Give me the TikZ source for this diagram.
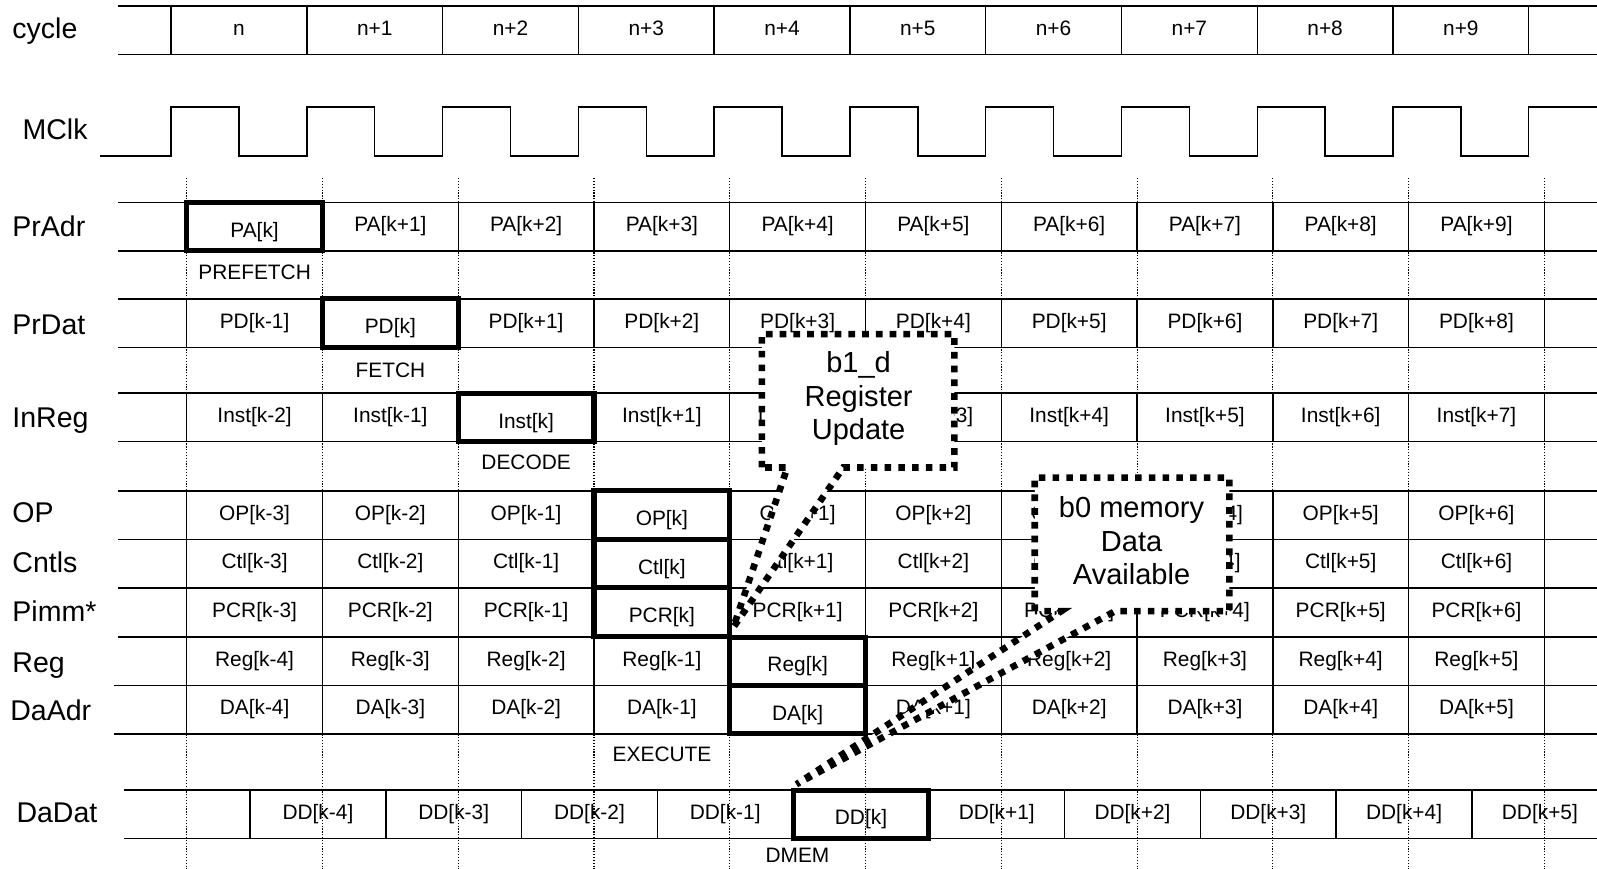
\documentclass[tikz,border=0pt]{standalone}
\usepackage{fontspec}
\setmainfont{Liberation Sans}
\usetikzlibrary{calc}
\newcommand\fntcell{\fontsize{20.5}{24}\selectfont}
\newcommand\fntlab{\fontsize{28}{32}\selectfont}
\newcommand\fntcall{\fontsize{28.5}{33}\selectfont}
% #1 prefix, #2 y centre, #3 thick index, #4 x of first cell, #5 x of left wire, #6 last index, #7 texts
\newcommand\cellrow[7]{%
  \foreach \t [count=\i from 0] in {#7}{%
    \ifnum\i=#3\relax
      \node[thkcell] (#1\i) at ({#4+133.3*\i+66.65},{#2}) {\t};
    \else
      \node[cell] (#1\i) at ({#4+133.3*\i+66.65},{#2}) {\t};
    \fi}%
  \draw[wire] ({#5},{#2-23.75}) -- (#10.north west);
  \draw[wire] ({#5},{#2+23.75}) -- (#10.south west);
  \draw[wire] (#1#6.north east) -- ({1568},{#2-23.75});
  \draw[wire] (#1#6.south east) -- ({1568},{#2+23.75});
}
\begin{document}
\begin{tikzpicture}[x=1pt,y=-1pt,
  wire/.style={line width=1.4pt},
  cell/.style={draw, line width=1.4pt, minimum width=133.3pt, minimum height=47.5pt,
    inner sep=0pt, outer sep=0pt, font=\fntcell, text height=15pt, text depth=4.5pt},
  thkcell/.style={cell, line width=5pt, text height=21pt, text depth=0pt},
  celltxt/.style={inner sep=0pt, font=\fntcell, text height=15pt, text depth=4.5pt},
  rlab/.style={anchor=base west, inner sep=0pt, font=\fntlab},
  stg/.style={inner sep=0pt, font=\fntcell},
  vgrid/.style={line width=1pt, dash pattern=on 1.2pt off 1.6pt},
  cbox/.style={fill=white, draw, line width=6.5pt, dash pattern=on 6.5pt off 7pt},
  ctext/.style={inner sep=0pt, align=center, font=\fntcall},
  cframe/.style={inner sep=0pt, outer sep=0pt, minimum height=131pt}
]
\fill[white] (0,0) rectangle (1568,853);
\useasboundingbox (0,0) rectangle (1568,853);

% row labels
\node[rlab] (lcycle) at (12,38) {cycle};
\node[rlab] (lmclk) at (22,137) {MClk};
\node[rlab] (lpradr) at (12,232) {PrAdr};
\node[rlab] (lprdat) at (12,328) {PrDat};
\node[rlab] (linreg) at (12,420) {InReg};
\node[rlab] (lop) at (12,513) {OP};
\node[rlab] (lcntls) at (12,562) {Cntls};
\node[rlab] (lpimm) at (12,610) {Pimm*};
\node[rlab] (lreg) at (12,660) {Reg};
\node[rlab] (ldaadr) at (10,707) {DaAdr};
\node[rlab] (ldadat) at (16,808) {DaDat};

% clock
\draw[wire] (98,153) \foreach \i in {0,...,9}{
  -- ({168+133.3*\i},153) -- ({168+133.3*\i},105)
  -- ({234.65+133.3*\i},105) -- ({234.65+133.3*\i},153)}
  -- (1501,153) -- (1501,105) -- (1568,105);

% vertical dotted grid
\foreach \i in {0,...,10}
  \draw[vgrid] ({183.3+133.3*\i},175) -- ({183.3+133.3*\i},853);

% rows
\cellrow{cy}{29.5}{-1}{168}{116}{9}{n,n+1,n+2,n+3,n+4,n+5,n+6,n+7,n+8,n+9}
\cellrow{pa}{222.5}{0}{183.3}{116}{9}{PA[k],PA[k+1],PA[k+2],PA[k+3],PA[k+4],PA[k+5],PA[k+6],PA[k+7],PA[k+8],PA[k+9]}
\cellrow{pd}{317.25}{1}{183.3}{116}{9}{PD[k-1],PD[k],PD[k+1],PD[k+2],PD[k+3],PD[k+4],PD[k+5],PD[k+6],PD[k+7],PD[k+8]}
\cellrow{in}{409.75}{2}{183.3}{116}{9}{Inst[k-2],Inst[k-1],Inst[k],Inst[k+1],Inst[k+2],Inst[k+3],Inst[k+4],Inst[k+5],Inst[k+6],Inst[k+7]}
\cellrow{op}{505.75}{3}{183.3}{116}{9}{OP[k-3],OP[k-2],OP[k-1],OP[k],OP[k+1],OP[k+2],OP[k+3],OP[k+4],OP[k+5],OP[k+6]}
\cellrow{ct}{553.25}{3}{183.3}{116}{9}{Ctl[k-3],Ctl[k-2],Ctl[k-1],Ctl[k],Ctl[k+1],Ctl[k+2],Ctl[k+3],Ctl[k+4],Ctl[k+5],Ctl[k+6]}
\cellrow{pc}{601}{3}{183.3}{116}{9}{PCR[k-3],PCR[k-2],PCR[k-1],PCR[k],PCR[k+1],PCR[k+2],PCR[k+3],PCR[k+4],PCR[k+5],PCR[k+6]}
\cellrow{rg}{649.25}{4}{183.3}{116}{9}{Reg[k-4],Reg[k-3],Reg[k-2],Reg[k-1],Reg[k],Reg[k+1],Reg[k+2],Reg[k+3],Reg[k+4],Reg[k+5]}
\cellrow{da}{696.75}{4}{183.3}{112}{9}{DA[k-4],DA[k-3],DA[k-2],DA[k-1],DA[k],DA[k+1],DA[k+2],DA[k+3],DA[k+4],DA[k+5]}
\cellrow{dd}{799.5}{4}{245.5}{122}{8}{DD[k-4],DD[k-3],DD[k-2],DD[k-1],DD[k],DD[k+1],DD[k+2],DD[k+3],DD[k+4]}
\node[celltxt] (dd9) at (1511.9,799.5) {DD[k+5]};

% stage labels
\node[stg] (sprefetch) at (250,267) {PREFETCH};
\node[stg] (sfetch) at (383.3,364) {FETCH};
\node[stg] (sdecode) at (516.6,454) {DECODE};
\node[stg] (sexecute) at (650,741) {EXECUTE};
\node[stg] (sdmem) at (783,840) {DMEM};

% callout 1
\coordinate (tip1) at (720,616);
\node[cframe, minimum width=189pt] (cf1) at (842.5,393.5) {};
\draw[cbox] (cf1.south west) -- (cf1.north west) -- (cf1.north east) -- (cf1.south east)
  -- ($(cf1.south west)+(80,0)$) -- (tip1) -- ($(cf1.south west)+(25,0)$) -- cycle;
\node[ctext] (ct1) at (843,391.5) {b1\_d\\Register\\Update};

% callout 2
\coordinate (tip2) at (782,770);
\node[cframe, minimum width=191pt] (cf2) at (1111.5,534.5) {};
\draw[cbox] (cf2.south west) -- (cf2.north west) -- (cf2.north east) -- (cf2.south east)
  -- ($(cf2.south west)+(79,0)$) -- (tip2) -- ($(cf2.south west)+(26,0)$) -- cycle;
\node[ctext] (ct2) at (1111,531) {b0 memory\\Data\\Available};
\end{tikzpicture}
\end{document}
